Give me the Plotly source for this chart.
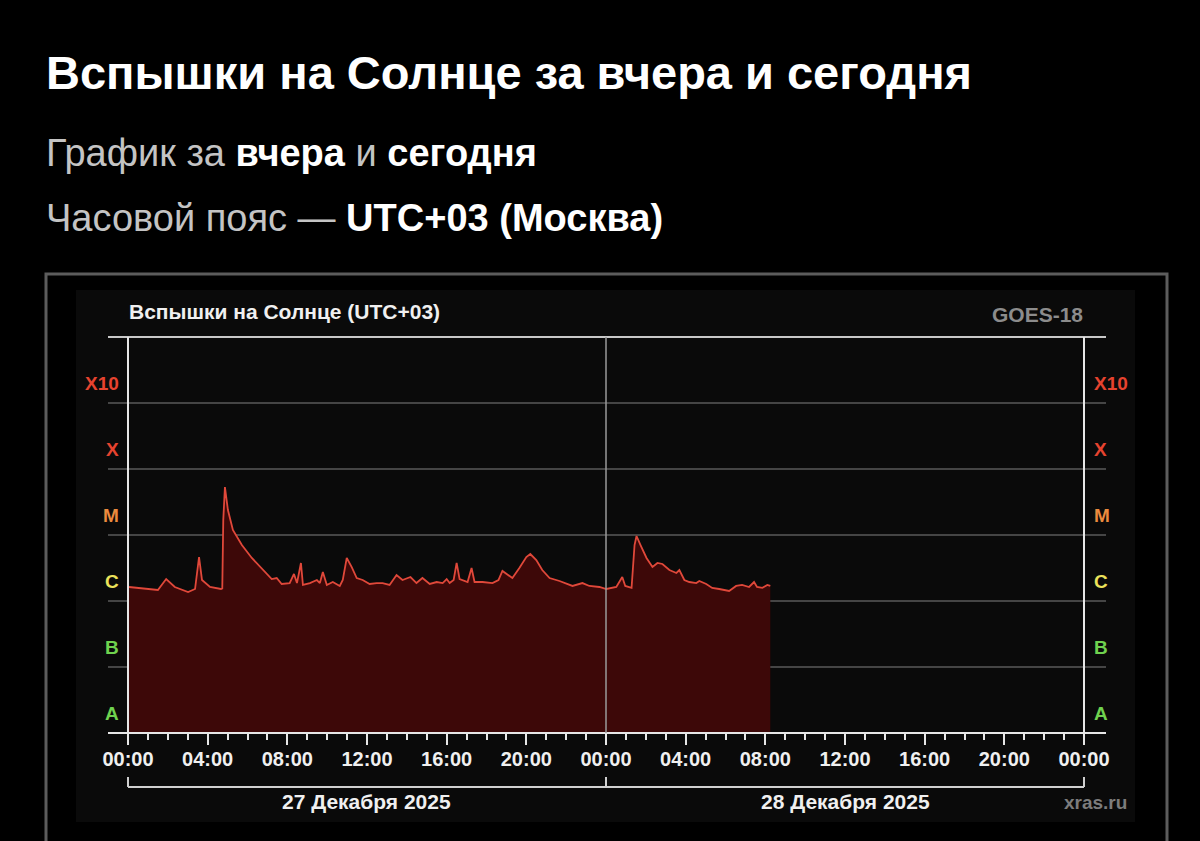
import plotly.graph_objects as go

W, H = 1200, 841

# ---------------- data ----------------
day1_date = "2025-12-27"
day1_times = ["00:03", "00:51", "01:30", "01:55", "02:21", "03:01", "03:22", "03:34", "03:43",
              "04:07", "04:40", "04:44", "04:47", "04:52", "05:01", "05:16", "05:43", "06:13",
              "06:43", "07:13", "07:28", "07:43", "08:07", "08:16", "08:20", "08:29", "08:41",
              "08:47", "09:08", "09:29", "09:38", "09:47", "09:59", "10:17", "10:38", "10:47",
              "10:59", "11:14", "11:29", "11:47", "12:08", "12:29", "12:47", "13:08", "13:29",
              "13:47", "14:11", "14:29", "14:47", "15:09", "15:30", "15:48", "16:00", "16:09",
              "16:21", "16:30", "16:39", "17:03", "17:15", "17:24", "17:48", "18:18", "18:36",
              "18:48", "19:03", "19:18", "19:39", "20:00", "20:12", "20:30", "20:48", "21:10",
              "21:40", "22:01", "22:19", "22:49", "23:10", "23:40"]
day1_flux = [1.63e-6, 1.52e-6, 1.47e-6, 2.15e-6, 1.63e-6, 1.37e-6, 1.52e-6, 4.64e-6, 2.08e-6,
             1.63e-6, 1.52e-6, 1.55e-6, 1.69e-5, 5.33e-5, 2.39e-5, 1.19e-5, 7.05e-6, 4.49e-6,
             3.05e-6, 2.15e-6, 2.23e-6, 1.81e-6, 1.87e-6, 2.39e-6, 2.57e-6, 1.87e-6, 3.77e-6,
             1.75e-6, 1.87e-6, 2.08e-6, 1.87e-6, 2.75e-6, 1.75e-6, 1.94e-6, 1.69e-6, 2.08e-6,
             4.49e-6, 3.27e-6, 2.23e-6, 2.08e-6, 1.81e-6, 1.87e-6, 1.87e-6, 1.75e-6, 2.48e-6,
             2.08e-6, 2.31e-6, 1.87e-6, 2.23e-6, 1.81e-6, 1.94e-6, 1.87e-6, 2.15e-6, 1.87e-6,
             2.08e-6, 3.77e-6, 2.15e-6, 1.94e-6, 3.16e-6, 1.94e-6, 1.94e-6, 1.87e-6, 2.08e-6,
             2.85e-6, 2.48e-6, 2.23e-6, 3.16e-6, 4.64e-6, 5.15e-6, 4.18e-6, 2.95e-6, 2.23e-6,
             2.01e-6, 1.81e-6, 1.69e-6, 1.87e-6, 1.69e-6, 1.63e-6]

day2_date = "2025-12-28"
day2_times = ["00:01", "00:31", "00:49", "00:58", "01:17", "01:26", "01:32", "01:44", "02:02",
              "02:20", "02:35", "02:50", "03:11", "03:32", "03:41", "03:56", "04:11", "04:32",
              "04:41", "05:02", "05:20", "05:41", "06:11", "06:32", "06:50", "07:11", "07:26",
              "07:35", "07:51", "08:06", "08:15"]
day2_flux = [1.52e-6, 1.63e-6, 2.31e-6, 1.69e-6, 1.58e-6, 7.05e-6, 9.66e-6, 7.05e-6, 4.49e-6,
             3.27e-6, 3.77e-6, 3.64e-6, 2.95e-6, 2.66e-6, 2.95e-6, 2.08e-6, 1.94e-6, 1.87e-6,
             2.01e-6, 1.81e-6, 1.58e-6, 1.52e-6, 1.42e-6, 1.69e-6, 1.75e-6, 1.63e-6, 1.94e-6,
             1.63e-6, 1.58e-6, 1.75e-6, 1.69e-6]

class_labels = ["A", "B", "C", "M", "X", "X10"]
class_colors = ["#6fd24f", "#6fd24f", "#ece25a", "#ec8a3e", "#e6432f", "#e6432f"]
class_log_low = [-8, -7, -6, -5, -4, -3]

day_labels = ["27 Декабря 2025", "28 Декабря 2025"]
x_range = ["2025-12-27 00:00", "2025-12-29 00:00"]

title_text = "Вспышки на Солнце за вчера и сегодня"
chart_title = "Вспышки на Солнце (UTC+03)"
satellite = "GOES-18"
source = "xras.ru"

# ---------------- helpers ----------------
def px(x):
    return x / W

def py(y):
    return 1 - y / H

PL, PR, PT, PB = 128, 1084, 337, 733   # plot area in pixels
YMIN, YMAX = -8, -2

def ylog_to_px(v):
    return PB - (v - YMIN) / (YMAX - YMIN) * (PB - PT)

times = [f"{day1_date} {t}" for t in day1_times] + [f"{day2_date} {t}" for t in day2_times]
flux = day1_flux + day2_flux

fig = go.Figure()
fig.add_trace(go.Scatter(
    x=times, y=flux, mode="lines",
    line=dict(color="#e0483a", width=1.8),
    fill="tozeroy", fillcolor="#3d0808",
    hoverinfo="skip", showlegend=False,
))

shapes = []
# outer framed box
shapes.append(dict(type="rect", xref="paper", yref="paper", x0=px(46), x1=px(1167), y0=py(274), y1=py(860),
                   line=dict(color="#5c5c5c", width=3), fillcolor="rgba(0,0,0,0)", layer="below"))
# inner panel
shapes.append(dict(type="rect", xref="paper", yref="paper", x0=px(76), x1=px(1135), y0=py(290), y1=py(822),
                   line=dict(width=0), fillcolor="#0a0a0a", layer="below"))
# horizontal decade lines
for v in range(YMIN, YMAX + 1):
    yy = ylog_to_px(v)
    if v == YMAX:
        col, wd = "#c8c8c8", 2
    elif v == YMIN:
        col, wd = "#e6e6e6", 2
    else:
        col, wd = "#5a5a5a", 1.5
    shapes.append(dict(type="line", xref="paper", yref="paper", x0=px(108), x1=px(1106), y0=py(yy), y1=py(yy),
                       line=dict(color=col, width=wd), layer="above" if v == YMIN else "below"))
# vertical frame lines
for xx, col, wd in [(PL, "#e6e6e6", 2), (PR, "#e6e6e6", 2), ((PL + PR) / 2, "#9a9a9a", 1.5)]:
    shapes.append(dict(type="line", xref="paper", yref="paper", x0=px(xx), x1=px(xx), y0=py(PT), y1=py(PB),
                       line=dict(color=col, width=wd), layer="above"))
# day bracket
shapes.append(dict(type="line", xref="paper", yref="paper", x0=px(PL), x1=px(PR), y0=py(787), y1=py(787),
                   line=dict(color="#cfcfcf", width=2)))
for xx in [PL, (PL + PR) / 2, PR]:
    shapes.append(dict(type="line", xref="paper", yref="paper", x0=px(xx), x1=px(xx), y0=py(777), y1=py(787),
                       line=dict(color="#cfcfcf", width=2)))

ann = []
FONT = "Liberation Sans, Arial, sans-serif"
ann.append(dict(text=f"<b>{title_text}</b>", x=px(44), y=py(72), xanchor="left", yanchor="middle",
                font=dict(size=47, color="white", family=FONT)))
ann.append(dict(text="<span style='color:#c4c4c4'>График за </span><b>вчера</b>"
                     "<span style='color:#c4c4c4'> и </span><b>сегодня</b>",
                x=px(44), y=py(153), xanchor="left", yanchor="middle",
                font=dict(size=38, color="white", family=FONT)))
ann.append(dict(text="<span style='color:#c4c4c4'>Часовой пояс — </span><b>UTC+03 (Москва)</b>",
                x=px(44), y=py(218), xanchor="left", yanchor="middle",
                font=dict(size=38, color="white", family=FONT)))
ann.append(dict(text=f"<b>{chart_title}</b>", x=px(127), y=py(311), xanchor="left", yanchor="middle",
                font=dict(size=21, color="#f0f0f0", family=FONT)))
ann.append(dict(text=f"<b>{satellite}</b>", x=px(1085), y=py(314), xanchor="right", yanchor="middle",
                font=dict(size=21, color="#8c8c8c", family=FONT)))
for lab, col, lo in zip(class_labels, class_colors, class_log_low):
    yy = ylog_to_px(lo + 0.29)
    ann.append(dict(text=f"<b>{lab}</b>", x=px(121), y=py(yy), xanchor="right", yanchor="middle",
                    font=dict(size=19, color=col, family=FONT)))
    ann.append(dict(text=f"<b>{lab}</b>", x=px(1092), y=py(yy), xanchor="left", yanchor="middle",
                    font=dict(size=19, color=col, family=FONT)))
for i, lab in enumerate(day_labels):
    ann.append(dict(text=f"<b>{lab}</b>", x=px(366 + i * 479), y=py(801), xanchor="center", yanchor="middle",
                    font=dict(size=21, color="#f0f0f0", family=FONT)))
ann.append(dict(text=f"<b>{source}</b>", x=px(1095), y=py(802), xanchor="center", yanchor="middle",
                font=dict(size=19, color="#7c7c7c", family=FONT)))
for a in ann:
    a.update(xref="paper", yref="paper", showarrow=False)

fig.update_layout(
    width=W, height=H,
    margin=dict(l=0, r=0, t=0, b=0, autoexpand=False),
    paper_bgcolor="black", plot_bgcolor="rgba(0,0,0,0)",
    shapes=shapes, annotations=ann,
    showlegend=False,
    xaxis=dict(
        domain=[px(PL), px(PR)], type="date", range=x_range, automargin=False,
        showgrid=False, zeroline=False, showline=False,
        dtick=4 * 3600 * 1000, tick0="2025-12-27 00:00", tickformat="%H:%M",
        ticks="outside", ticklen=11, tickwidth=2, tickcolor="#e6e6e6",
        ticklabelstandoff=-3,
        tickfont=dict(size=20, color="#f0f0f0", family=FONT, weight="bold"),
        minor=dict(dtick=3600 * 1000, ticks="outside", ticklen=6, tickwidth=1.5, tickcolor="#e6e6e6"),
        fixedrange=True,
    ),
    yaxis=dict(
        domain=[py(PB), py(PT)], type="log", range=[YMIN, YMAX], automargin=False,
        showgrid=False, zeroline=False, showline=False, showticklabels=False, ticks="",
        fixedrange=True,
    ),
)

fig.write_html(
    "out.html",
    config={"displayModeBar": False},
    post_script="document.body.style.margin='0';document.body.style.background='black';"
                "document.documentElement.style.background='black';document.body.style.overflow='hidden';",
)
